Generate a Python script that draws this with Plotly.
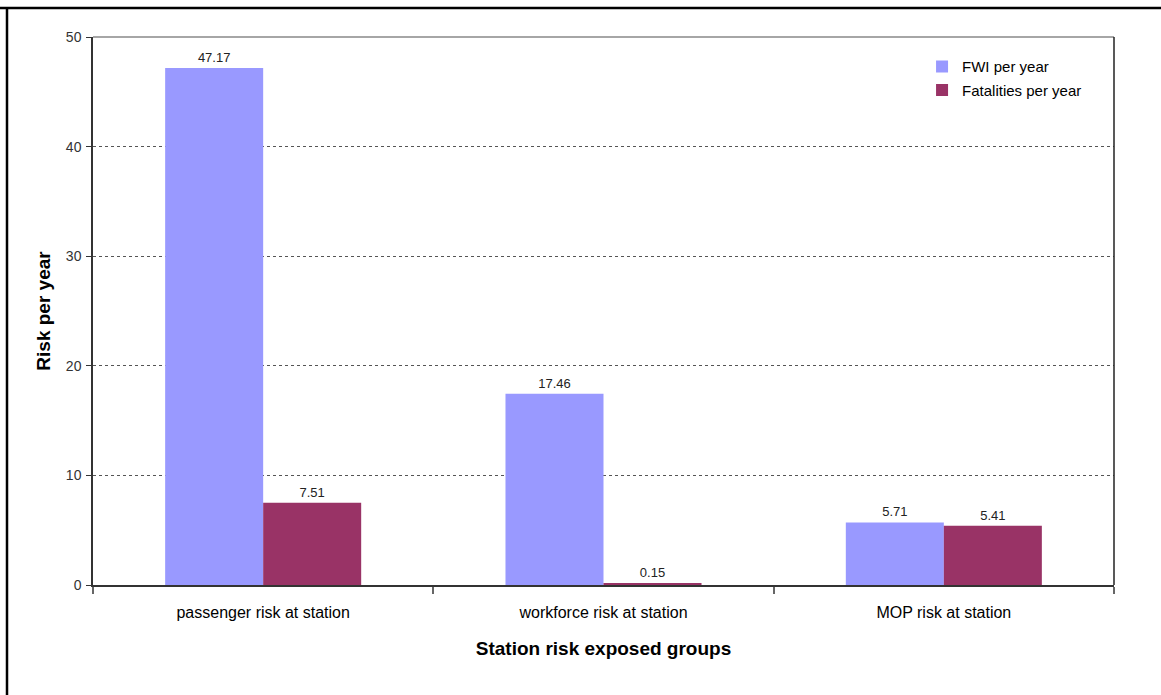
import plotly.graph_objects as go

# Station risk by exposed group
groups = ["passenger risk at station", "workforce risk at station", "MOP risk at station"]
fwi_per_year = [47.17, 17.46, 5.71]
fatalities_per_year = [7.51, 0.15, 5.41]

y_ticks = [0, 10, 20, 30, 40, 50]

FONT = "Liberation Sans, Arial, sans-serif"

fig = go.Figure()
fig.add_trace(go.Bar(
    name="FWI per year", x=groups, y=fwi_per_year, legendgroup="fwi",
    marker=dict(color="#9999FF", line=dict(width=0)),
    text=[f"{v:.2f}" for v in fwi_per_year], textposition="outside",
    textfont=dict(family=FONT, size=13, color="#222222"), cliponaxis=False,
))
fig.add_trace(go.Bar(
    name="Fatalities per year", x=groups, y=fatalities_per_year, legendgroup="fat",
    marker=dict(color="#993366", line=dict(width=0)),
    text=[f"{v:.2f}" for v in fatalities_per_year], textposition="outside",
    textfont=dict(family=FONT, size=13, color="#222222"), cliponaxis=False,
))

L, R, T, B = 93, 47, 37, 110
W, H = 1161, 695
pw, ph = W - L - R, H - T - B

fig.update_layout(
    width=W, height=H,
    margin=dict(l=L, r=R, t=T, b=B),
    paper_bgcolor="white", plot_bgcolor="white",
    barmode="group", bargap=0.424, bargroupgap=0,
    font=dict(family=FONT, color="#000000"),
    showlegend=True,
    legend=dict(
        x=0.812, y=0.976, xanchor="left", yanchor="top",
        font=dict(family=FONT, size=15, color="#000000"),
        bgcolor="rgba(0,0,0,0)", itemwidth=30, tracegroupgap=1,
    ),
    xaxis=dict(
        type="category",
        showline=True, linecolor="#333333", linewidth=1.5, mirror=False,
        ticks="outside", tickson="boundaries", ticklen=7, tickcolor="#666666", tickwidth=2,
        tickfont=dict(family=FONT, size=16, color="#000000"),
        ticklabelstandoff=12,
        title=dict(text="<b>Station risk exposed groups</b>",
                   font=dict(family=FONT, size=19, color="#000000"), standoff=22),
        showgrid=False,
    ),
    yaxis=dict(
        range=[0, 50], tickvals=y_ticks, ticktext=[str(v) for v in y_ticks],
        showline=True, linecolor="#333333", linewidth=1.5,
        ticks="outside", ticklen=5, tickcolor="#333333", tickwidth=1,
        tickfont=dict(family=FONT, size=14, color="#333333"),
        ticklabelstandoff=2,
        showgrid=True, gridcolor="#555555", gridwidth=1, griddash="dot",
        zeroline=False,
        title=dict(text="<b>Risk per year</b>",
                   font=dict(family=FONT, size=19, color="#000000"), standoff=10),
    ),
    shapes=[
        # plot frame: top edge (grey) and right edge (dark)
        dict(type="line", xref="paper", yref="paper", x0=0, x1=1, y0=1, y1=1,
             line=dict(color="#888888", width=1.5)),
        dict(type="line", xref="paper", yref="paper", x0=1, x1=1, y0=0, y1=1,
             line=dict(color="#222222", width=1.5)),
        # outer page border: top and left
        dict(type="line", xref="paper", yref="paper",
             x0=(0 - L) / pw, x1=(W - L) / pw,
             y0=1 + (T - 8) / ph, y1=1 + (T - 8) / ph,
             line=dict(color="#000000", width=2.5)),
        dict(type="line", xref="paper", yref="paper",
             x0=(7 - L) / pw, x1=(7 - L) / pw,
             y0=1 + (T - 8) / ph, y1=-(B + 5) / ph,
             line=dict(color="#000000", width=2.5)),
    ],
)

fig.write_html("out.html")
